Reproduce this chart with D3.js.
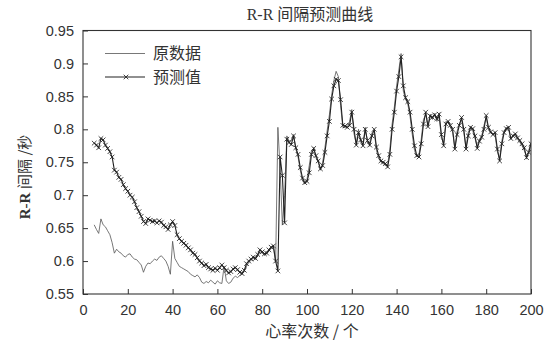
<!DOCTYPE html>
<html>
<head>
<meta charset="utf-8">
<script src="https://cdn.jsdelivr.net/npm/d3@7/dist/d3.min.js"></script>
<style>
  html, body { margin: 0; padding: 0; background: #fff; }
  svg { display: block; }
</style>
</head>
<body>
<svg id="chart" width="550" height="343"></svg>
<script>
// Beat numbers 5..200
const beatStart = 5;

// Measured R-R intervals (s)
const original = [
  0.655, 0.648, 0.642, 0.664, 0.655, 0.652, 0.646, 0.640, 0.628, 0.612,
  0.618, 0.614, 0.612, 0.608, 0.606, 0.610, 0.611, 0.606, 0.603, 0.602,
  0.598, 0.594, 0.583, 0.592, 0.597, 0.596, 0.600, 0.603, 0.601, 0.606,
  0.608, 0.604, 0.600, 0.592, 0.580, 0.630, 0.604, 0.598, 0.592, 0.590,
  0.588, 0.586, 0.584, 0.580, 0.578, 0.576, 0.579, 0.575, 0.568, 0.566,
  0.569, 0.567, 0.571, 0.568, 0.565, 0.570, 0.567, 0.566, 0.592, 0.570,
  0.566, 0.568, 0.574, 0.577, 0.575, 0.578, 0.580, 0.585, 0.592, 0.598,
  0.601, 0.604, 0.603, 0.608, 0.614, 0.612, 0.609, 0.611, 0.615, 0.619,
  0.621, 0.598, 0.803, 0.740, 0.655, 0.700, 0.790, 0.782, 0.783, 0.792,
  0.770, 0.758, 0.738, 0.722, 0.717, 0.724, 0.745, 0.768, 0.770, 0.757,
  0.750, 0.738, 0.750, 0.772, 0.798, 0.822, 0.852, 0.874, 0.888, 0.880,
  0.836, 0.803, 0.803, 0.806, 0.812, 0.830, 0.793, 0.778, 0.800, 0.780,
  0.778, 0.803, 0.779, 0.780, 0.795, 0.798, 0.768, 0.756, 0.750, 0.748,
  0.745, 0.746, 0.770, 0.808, 0.834, 0.866, 0.890, 0.915, 0.858, 0.846,
  0.838, 0.820, 0.792, 0.768, 0.758, 0.762, 0.785, 0.815, 0.822, 0.806,
  0.823, 0.815, 0.824, 0.812, 0.820, 0.786, 0.780, 0.812, 0.810, 0.803,
  0.796, 0.772, 0.797, 0.808, 0.815, 0.795, 0.772, 0.796, 0.802, 0.798,
  0.786, 0.774, 0.785, 0.790, 0.806, 0.818, 0.800, 0.794, 0.794, 0.790,
  0.766, 0.755, 0.783, 0.798, 0.803, 0.800, 0.785, 0.792, 0.790, 0.785,
  0.780, 0.775, 0.768, 0.758, 0.768, 0.780
];

// Predicted R-R intervals (s)
const predicted = [
  0.779, 0.776, 0.772, 0.786, 0.784, 0.776, 0.771, 0.766, 0.758, 0.738,
  0.735, 0.727, 0.724, 0.716, 0.710, 0.706, 0.700, 0.697, 0.690, 0.681,
  0.675, 0.668, 0.660, 0.657, 0.664, 0.662, 0.660, 0.661, 0.658, 0.661,
  0.659, 0.654, 0.652, 0.648, 0.655, 0.660, 0.654, 0.640, 0.634, 0.630,
  0.627, 0.624, 0.620, 0.617, 0.612, 0.610, 0.605, 0.600, 0.597, 0.593,
  0.595, 0.590, 0.588, 0.586, 0.589, 0.586, 0.590, 0.594, 0.590, 0.586,
  0.582, 0.584, 0.588, 0.590, 0.587, 0.583, 0.581, 0.586, 0.596, 0.600,
  0.603, 0.606, 0.604, 0.610, 0.617, 0.614, 0.611, 0.612, 0.617, 0.621,
  0.623, 0.600, 0.585, 0.758, 0.730, 0.658, 0.785, 0.780, 0.777, 0.790,
  0.772, 0.762, 0.742, 0.726, 0.719, 0.721, 0.734, 0.762, 0.771, 0.760,
  0.752, 0.740, 0.745, 0.765, 0.790, 0.812, 0.846, 0.866, 0.876, 0.874,
  0.845, 0.806, 0.805, 0.803, 0.806, 0.826, 0.800, 0.776, 0.795, 0.784,
  0.775, 0.800, 0.783, 0.776, 0.790, 0.800, 0.773, 0.760, 0.752, 0.750,
  0.748, 0.743, 0.762, 0.800, 0.826, 0.858, 0.880, 0.910, 0.866, 0.848,
  0.842, 0.826, 0.800, 0.775, 0.760, 0.758, 0.778, 0.808, 0.826, 0.804,
  0.820, 0.818, 0.822, 0.816, 0.823, 0.792, 0.775, 0.808, 0.812, 0.806,
  0.800, 0.770, 0.792, 0.806, 0.818, 0.800, 0.770, 0.790, 0.803, 0.801,
  0.790, 0.771, 0.782, 0.788, 0.800, 0.821, 0.803, 0.796, 0.792, 0.795,
  0.770, 0.752, 0.778, 0.795, 0.801, 0.803, 0.786, 0.790, 0.793, 0.787,
  0.783, 0.778, 0.772, 0.757, 0.765, 0.778
];

const xTicks = [0, 20, 40, 60, 80, 100, 120, 140, 160, 180, 200];
const yTicks = [0.55, 0.6, 0.65, 0.7, 0.75, 0.8, 0.85, 0.9, 0.95];
const yTickLabels = ["0.55", "0.6", "0.65", "0.7", "0.75", "0.8", "0.85", "0.9", "0.95"];
const legendLabels = ["原数据", "预测值"];
const titleText = "间隔预测曲线";
const xLabelText = "心率次数 / 个";

const margin = { left: 83, right: 19, top: 30.5, bottom: 49 };
const W = 550, H = 343;
const svg = d3.select("#chart");
const ink = "#333";

const x = d3.scaleLinear().domain([0, 200]).range([margin.left, W - margin.right]);
const y = d3.scaleLinear().domain([0.55, 0.95]).range([H - margin.bottom, margin.top]);

const origPts = original.map((v, i) => [beatStart + i, v]);
const predPts = predicted.map((v, i) => [beatStart + i, v]);

svg.append("defs").append("clipPath").attr("id", "plotClip")
  .append("rect")
  .attr("x", x(0)).attr("y", y(0.95))
  .attr("width", x(200) - x(0)).attr("height", y(0.55) - y(0.95));

const line = d3.line().x(d => x(d[0])).y(d => y(d[1]));

const plot = svg.append("g").attr("clip-path", "url(#plotClip)");

// measured series: thin grey line
plot.append("path")
  .attr("d", line(origPts))
  .attr("fill", "none")
  .attr("stroke", "#555")
  .attr("stroke-width", 0.8);

// predicted series: black line with x markers
plot.append("path")
  .attr("d", line(predPts))
  .attr("fill", "none")
  .attr("stroke", "#222")
  .attr("stroke-width", 1.1);

const cross = "M-2.3,-2.3L2.3,2.3M-2.3,2.3L2.3,-2.3";
plot.append("g").selectAll("path")
  .data(predPts)
  .join("path")
  .attr("transform", d => `translate(${x(d[0])},${y(d[1])})`)
  .attr("d", cross)
  .attr("stroke", "#222")
  .attr("stroke-width", 0.85)
  .attr("fill", "none");

// frame
svg.append("rect")
  .attr("x", x(0)).attr("y", y(0.95))
  .attr("width", x(200) - x(0)).attr("height", y(0.55) - y(0.95))
  .attr("fill", "none").attr("stroke", ink).attr("stroke-width", 1.1);

// axes with inward ticks
const xAxis = d3.axisBottom(x).tickValues(xTicks).tickSize(-5).tickPadding(7)
  .tickFormat(d3.format("d"));
const gx = svg.append("g").attr("transform", `translate(0,${y(0.55)})`).call(xAxis);

const yAxis = d3.axisLeft(y).tickValues(yTicks).tickSize(-5).tickPadding(9)
  .tickFormat((d, i) => yTickLabels[i]);
const gy = svg.append("g").attr("transform", `translate(${x(0)},0)`).call(yAxis);

[gx, gy].forEach(g => {
  g.select(".domain").remove();
  g.selectAll(".tick line").attr("stroke", ink).attr("stroke-width", 1);
  g.selectAll(".tick text")
    .attr("fill", ink)
    .style("font-family", "'Liberation Sans', Arial, sans-serif")
    .style("font-size", "14.5px");
});
gx.selectAll(".tick text").attr("dy", "0.95em");

// title
const title = svg.append("text")
  .attr("x", 310).attr("y", 20)
  .attr("text-anchor", "middle")
  .attr("fill", ink)
  .style("font-size", "16px");
title.append("tspan").style("font-family", "'Liberation Serif', serif").text("R-R ");
title.append("tspan").style("font-family", "'Noto Sans CJK SC', sans-serif").text(titleText);

// x label
svg.append("text")
  .attr("x", 312).attr("y", 337)
  .attr("text-anchor", "middle")
  .attr("fill", ink)
  .style("font-family", "'Noto Sans CJK SC', sans-serif")
  .style("font-size", "16px")
  .text(xLabelText);

// y label
const yl = svg.append("text")
  .attr("transform", "translate(30,177) rotate(-90)")
  .attr("text-anchor", "middle")
  .attr("fill", ink)
  .style("font-size", "15px");
yl.append("tspan").style("font-family", "'Liberation Serif', serif").style("font-weight", "bold").text("R-R ");
yl.append("tspan").style("font-family", "'Noto Sans CJK SC', sans-serif").text("间隔 /秒");

// legend
const lg = svg.append("g");
const legendRows = [
  { y: 53.5, stroke: "#555", w: 0.8, marker: false },
  { y: 77, stroke: "#222", w: 1.1, marker: true }
];
legendRows.forEach((r, i) => {
  lg.append("line")
    .attr("x1", 105).attr("x2", 145)
    .attr("y1", r.y).attr("y2", r.y)
    .attr("stroke", r.stroke).attr("stroke-width", r.w);
  if (r.marker) {
    lg.append("path")
      .attr("transform", `translate(126,${r.y})`)
      .attr("d", cross)
      .attr("stroke", "#222").attr("stroke-width", 0.85);
  }
  lg.append("text")
    .attr("x", 153).attr("y", r.y)
    .attr("dy", "0.35em")
    .attr("fill", ink)
    .style("font-family", "'Noto Sans CJK SC', sans-serif")
    .style("font-size", "16px")
    .text(legendLabels[i]);
});
</script>
</body>
</html>
